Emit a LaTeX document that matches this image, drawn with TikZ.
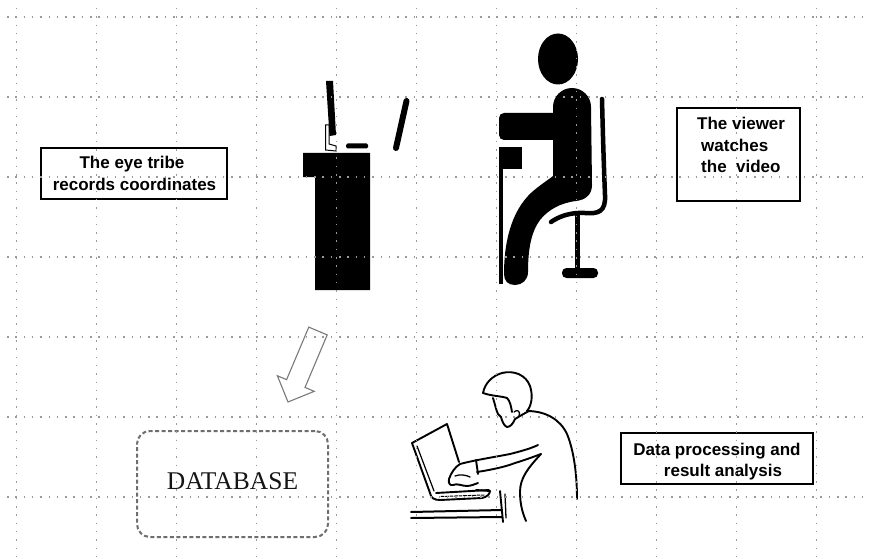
\documentclass[tikz,border=0pt]{standalone}
\usepackage{fontspec}
\setmainfont{Liberation Sans}
\newfontfamily\dbfont{Liberation Serif}
\usetikzlibrary{calc}

\definecolor{gridgray}{HTML}{9A9A9A}
\definecolor{arrowgray}{HTML}{7A7A7A}
\definecolor{dbgray}{HTML}{6E6E6E}
\definecolor{dbtext}{HTML}{151515}

\begin{document}
\begin{tikzpicture}[x=1pt,y=-1pt,
  labelbox/.style={draw=black, line width=2.2pt, inner sep=0pt},
  labeltext/.style={font=\bfseries\fontsize{17pt}{21pt}\selectfont, inner sep=0pt},
  gridline/.style={draw=gridgray, line width=1.5pt, dash pattern=on 1.5pt off 6.8pt},
  sketch/.style={draw=black, line width=1.9pt, line cap=round, line join=round},
  dbbox/.style={draw=dbgray, line width=2pt, dash pattern=on 4pt off 2.5pt, rounded corners=13pt, inner sep=0pt},
  hollowarrow/.style={draw=arrowgray, line width=1.1pt, fill=white, line join=miter}
]
\useasboundingbox (0,0) rectangle (870,559);
\fill[white] (0,0) rectangle (870,559);

% ---- text boxes ----
\node[labelbox, minimum width=186pt, minimum height=51pt] (tribebox) at (134,173.5) {};
\node[labeltext, anchor=base] (tribeline1) at (132,168) {The eye tribe};
\node[labeltext, anchor=base] (tribeline2) at (134.5,190) {records coordinates};

\node[labelbox, minimum width=123pt, minimum height=93pt] (viewerbox) at (738.5,154.5) {};
\node[labeltext, anchor=base west] (viewerline1) at (697,130) {The viewer};
\node[labeltext, anchor=base west] (viewerline2) at (701,151) {watches};
\node[labeltext, anchor=base west] (viewerline3) at (701,172) {the\ \ video};

\node[labelbox, minimum width=192pt, minimum height=51pt] (analysisbox) at (717,458.5) {};
\node[labeltext, anchor=base] (analysisline1) at (717,455) {Data processing and};
\node[labeltext, anchor=base] (analysisline2) at (723,476) {result analysis};

% ---- database ----
\node[dbbox, minimum width=191pt, minimum height=106pt] (database) at (232.5,484) {};
\node[anchor=base, inner sep=0pt, text=dbtext, font=\dbfont\fontsize{25.5pt}{28pt}\selectfont] (dblabel) at (232.5,489) {DATABASE};

% ---- hollow block arrow towards the database ----
\coordinate (arrowtail) at (318,331);
\coordinate (arrowtip) at (288,402);
\coordinate (headbase) at ($(arrowtail)!0.74!(arrowtip)$);
\draw[hollowarrow]
  ($(arrowtail)!10pt!90:(arrowtip)$) --
  ($(headbase)!10pt!-90:(arrowtail)$) --
  ($(headbase)!20pt!-90:(arrowtail)$) --
  (arrowtip) --
  ($(headbase)!20pt!90:(arrowtail)$) --
  ($(headbase)!10pt!90:(arrowtail)$) --
  ($(arrowtail)!10pt!-90:(arrowtip)$) -- cycle;

% ---- desk with eye tracker and monitor ----
\fill (303,153) -- (370,153) -- (370,290) -- (315,290) -- (315,177) -- (303,177) -- cycle;
\fill (326,81) -- (333,81) -- (336,135) -- (329.5,136) -- cycle;
\draw[line width=1pt] (325.5,125) -- (329,125) -- (329,144) -- (336,146) -- (336,151) -- (325.5,150) -- cycle;
\fill[rounded corners=1.5pt] (346,143.5) rectangle (368,148.5);
\draw[line width=6pt, line cap=round] (406.5,101) -- (396,148);

% ---- seated viewer ----
\fill (558,59) ellipse [x radius=20, y radius=25.5];
\fill[rounded corners=5pt] (499,113) rectangle (562,140);
\fill (553,107) .. controls (553,96.5) and (561.5,88) .. (572,88)
  .. controls (582.5,88) and (591,96.5) .. (591,107)
  -- (592,185) .. controls (592,195) and (585,200) .. (576,201)
  .. controls (560,203) and (548,210) .. (540,220)
  .. controls (531,232) and (528,250) .. (528,272)
  .. controls (528,280) and (522,285) .. (515,285)
  .. controls (508,285) and (504,281) .. (504,274)
  .. controls (504,245) and (510,212) .. (532,192)
  .. controls (540,185) and (548,180) .. (553,176) -- cycle;
% small table
\fill (499,147) rectangle (522,169);
\fill (499,147) rectangle (503,284);
% chair
\draw[line width=4.5pt, line cap=round] (602,99) .. controls (603,140) and (604,170) .. (605,195)
  .. controls (606,212) and (598,214) .. (585,213) .. controls (570,212) and (558,217) .. (551,222);
\draw[line width=4.5pt] (577.5,213) -- (577.5,272);
\fill[rounded corners=4.5pt] (562,268) rectangle (598,278);

% ---- person working on a laptop ----
% hair
\draw[sketch] (483,393) .. controls (485,383) and (492,376) .. (502,373)
  .. controls (514,370) and (526,375) .. (530,386) .. controls (533,395) and (532,405) .. (527,411);
\draw[sketch] (483,393) .. controls (491,396) and (501,396) .. (507,398)
  .. controls (510,401) and (511,406) .. (512,412);
% face
\draw[sketch] (493,398) .. controls (495,404) and (496,410) .. (498,414) -- (501,417)
  .. controls (502,421) and (504,426) .. (507,427) .. controls (510,427) and (513,424) .. (515,419);
\draw[sketch, line width=1.3pt] (514,412) .. controls (517,409) and (521,411) .. (519,416);
% collar and back
\draw[sketch] (515,419) .. controls (520,416) and (525,413) .. (529,411);
\draw[sketch] (527,411) .. controls (545,411) and (560,419) .. (567,434)
  .. controls (574,451) and (577,475) .. (577,499);
% body front below the arm
\draw[sketch] (541,454) .. controls (528,468) and (520,478) .. (520,492)
  .. controls (520,505) and (523,514) .. (526,521);
% forearm
\draw[sketch] (460,464) .. controls (475,460) and (495,457) .. (510,454)
  .. controls (522,451) and (532,448) .. (538,445);
\draw[sketch] (477,472) .. controls (490,470) and (505,467) .. (515,463)
  .. controls (525,460) and (533,457) .. (541,454);
\draw[sketch] (476,460) -- (478,474);
% hand
\draw[sketch] (460,464) .. controls (455,467) and (451,473) .. (449,479)
  .. controls (448,483) and (450,486) .. (453,485) .. controls (457,483) and (462,486) .. (467,486)
  .. controls (471,486) and (475,484) .. (478,483);
\draw[sketch, line width=1.3pt] (455,476) .. controls (460,474) and (466,475) .. (470,477);
% laptop
\draw[sketch] (412,443) -- (447,424) -- (459,462);
\draw[sketch] (412,443) -- (430,493);
\draw[sketch, line width=1.2pt] (417,446) -- (434,491);
\draw[sketch] (430,493) .. controls (431,498) and (434,500) .. (440,500) -- (482,498)
  .. controls (487,497) and (490,494) .. (490,491) -- (476,490);
\draw[sketch] (436,493) -- (489,490);
\draw[sketch, line width=1pt, dash pattern=on 3pt off 1.5pt] (441,496.5) -- (484,495);
% table
\draw[sketch, line width=2pt] (411,512) -- (502,510);
\draw[sketch, line width=2pt] (411,518) -- (502,517);
\draw[sketch] (500,491) -- (503,522);
\draw[sketch, line width=1.3pt] (505,494) -- (506,518);

% ---- dotted grid over everything ----
\foreach \gx in {0,...,10} \draw[gridline] (16.5+80*\gx,8) -- (16.5+80*\gx,559);
\foreach \gy in {0,...,6} \draw[gridline] (7,17+80*\gy) -- (870,17+80*\gy);
\end{tikzpicture}
\end{document}
